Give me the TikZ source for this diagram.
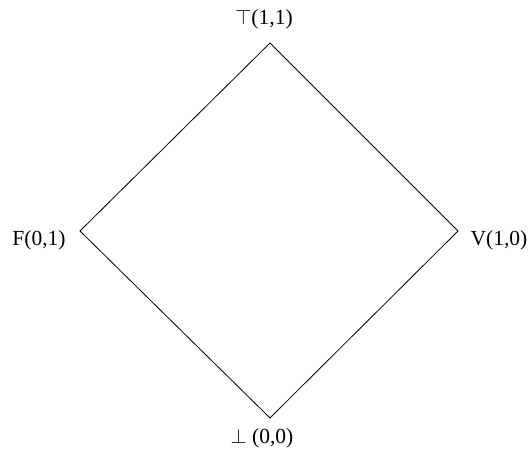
\documentclass[tikz,border=0pt]{standalone}
\usepackage{fontspec}
\setmainfont{Liberation Serif}
\begin{document}
\begin{tikzpicture}[x=1pt,y=1pt,
  lbl/.style={inner sep=0pt,font=\fontsize{21.5}{25}\selectfont},
  edge/.style={draw=black,line width=0.8pt}]
  \useasboundingbox (0,0) rectangle (528,452);
  % lattice corners
  \coordinate (t) at (270,409);
  \coordinate (f) at (80,221);
  \coordinate (v) at (458,221);
  \coordinate (b) at (270,34);
  % labels
  \node[lbl] (tl) at (264,433) {$\top$(1,1)};
  \node[lbl] (fl) at (39,212) {F(0,1)};
  \node[lbl] (vl) at (499,212) {V(1,0)};
  \node[lbl] (bl) at (262,14) {$\bot$ (0,0)};
  % Hasse diagram edges
  \draw[edge] (t) -- (f) -- (b) -- (v) -- (t);
\end{tikzpicture}
\end{document}
